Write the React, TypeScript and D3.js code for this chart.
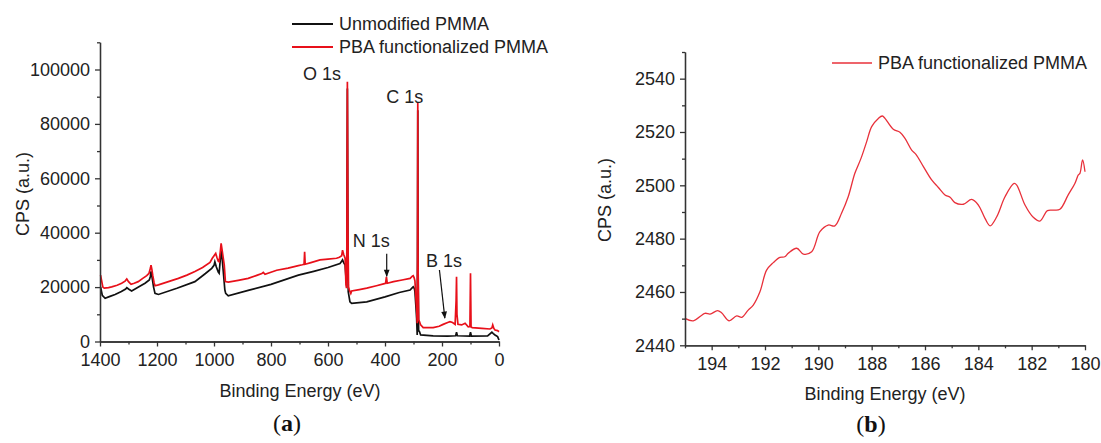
import React, { useEffect, useRef } from 'react';
import * as d3 from 'd3';

// survey spectra, [binding energy (eV), CPS]
const unmodifiedSurvey: [number, number][] = [
  [1398, 20100], [1392, 17000], [1382, 15900], [1365, 16600], [1347, 17300], [1325, 18400],
  [1310, 19300], [1306, 19800], [1300, 19300], [1289, 18600], [1265, 20000], [1242, 21400],
  [1227, 22600], [1223, 24000], [1221, 25800], [1218, 24000], [1212, 20000], [1207, 17700],
  [1195, 17300], [1130, 19600], [1067, 22000], [1030, 25000], [1008, 26900], [1000, 28000],
  [997, 29300], [992, 27500], [985, 25500], [982, 25100], [978, 30000], [975, 33600],
  [971, 30000], [966, 24000], [962, 19000], [959, 17700], [950, 16800], [880, 18800],
  [800, 21000], [704, 24400], [650, 25800], [600, 27200], [558, 28700], [552, 29500],
  [549, 30000], [545, 29000], [540, 28100], [536, 22000], [534, 30000], [532, 93000],
  [530, 35000], [529, 18300], [523, 14600], [517, 14000], [464, 14600], [400, 16400],
  [350, 18000], [312, 18900], [304, 19800], [301, 20100], [297, 19500], [295, 18300],
  [291, 12000], [289, 8500], [287, 2400], [286, 30000], [285, 85000], [284, 28000],
  [282, 4000], [279, 3600], [275, 2400], [231, 2100], [180, 2000], [152, 2100],
  [149, 3400], [146, 2100], [103, 2000], [100, 3400], [97, 2000], [40, 2100],
  [25, 3400], [20, 2900], [14, 2400], [5, 1800], [0, 550],
];

const pbaSurvey: [number, number][] = [
  [1398, 24400], [1390, 20000], [1385, 19600], [1370, 19800], [1359, 20100], [1340, 20700],
  [1324, 21400], [1312, 22200], [1306, 23000], [1300, 22000], [1291, 21000], [1280, 21400],
  [1266, 22000], [1250, 23200], [1236, 24200], [1228, 25100], [1223, 27000], [1221, 28100],
  [1218, 26500], [1215, 24400], [1210, 21500], [1207, 20500], [1195, 20800], [1160, 22000],
  [1125, 23200], [1095, 24400], [1067, 25700], [1040, 27200], [1014, 29100], [1006, 30600],
  [998, 31800], [994, 32400], [990, 31000], [985, 29500], [982, 29300], [978, 33000],
  [975, 36100], [972, 34000], [968, 31000], [964, 28100], [960, 22000], [950, 21800],
  [915, 22500], [880, 23200], [850, 24300], [832, 25000], [827, 25400], [821, 24700],
  [780, 26200], [740, 27000], [704, 27900], [690, 28200], [684, 28400], [682, 33000],
  [680, 28400], [660, 29000], [628, 30000], [600, 30300], [570, 30600], [560, 31000],
  [552, 31500], [549, 33600], [545, 32000], [540, 30600], [537, 20800], [535, 19600],
  [534, 30000], [532, 95500], [530, 40000], [528, 20000], [525, 18900], [520, 17700],
  [517, 18600], [490, 19100], [464, 19600], [430, 20500], [405, 21200], [398, 21400],
  [395, 23800], [392, 21400], [370, 22000], [340, 22600], [312, 23200], [304, 24000],
  [301, 24200], [298, 23500], [295, 22300], [291, 15000], [289, 12200], [287, 6700],
  [286, 30000], [285, 88000], [284, 30000], [282, 8000], [279, 7300], [275, 6100],
  [266, 5100], [231, 5100], [210, 5600], [196, 6300], [180, 7000], [172, 7300],
  [163, 7000], [154, 6300], [150.5, 15000], [149, 23800], [147.5, 10000], [144, 6300],
  [131, 6100], [119, 6700], [108, 5400], [102, 5500], [100, 25100], [98, 5300],
  [94, 5100], [60, 4800], [32, 4600], [25, 5000], [22, 6100], [18, 4800],
  [14, 4200], [5, 4000], [0, 3600],
];

// B 1s region
const pbaBoron: [number, number][] = [
  [195, 2450.1], [194.69, 2449.2], [194.25, 2452], [194.06, 2451.7], [193.78, 2453],
  [193.63, 2452.2], [193.35, 2449.2], [193.06, 2451], [192.87, 2450.5], [192.63, 2453.2],
  [192.44, 2455.1], [192.19, 2460.1], [191.94, 2468.2], [191.69, 2471], [191.44, 2473],
  [191.26, 2473.2], [191.13, 2474.5], [190.81, 2476.4], [190.56, 2474.2], [190.25, 2475.1],
  [189.94, 2482.6], [189.63, 2485.1], [189.38, 2484.8], [189.13, 2489.5], [188.88, 2495.7],
  [188.63, 2504.5], [188.4, 2510.1], [188.19, 2516.3], [188, 2522], [187.75, 2525.1],
  [187.6, 2526], [187.5, 2525.1], [187.19, 2521], [186.94, 2519.9], [186.75, 2517.6],
  [186.5, 2513.2], [186.34, 2511.6], [186.06, 2507], [185.75, 2502], [185.5, 2499.2],
  [185.25, 2496.4], [185.06, 2495.5], [184.88, 2493.5], [184.56, 2492.9], [184.25, 2494.7],
  [184, 2492.6], [183.75, 2487.6], [183.56, 2484.8], [183.31, 2488.2], [183, 2495.7],
  [182.66, 2500.7], [182.56, 2500.1], [182.25, 2492.6], [181.94, 2488], [181.69, 2486.6],
  [181.41, 2490.5], [181.19, 2490.7], [180.94, 2491], [180.63, 2496.4], [180.38, 2500.7],
  [180.25, 2503.9], [180.19, 2504.5], [180.09, 2509.5], [180, 2505.1],
];

const surveyYTicks = [0, 20000, 40000, 60000, 80000, 100000];
const surveyYMinor = [10000, 30000, 50000, 70000, 90000, 110000];
const surveyXTicks = [1400, 1200, 1000, 800, 600, 400, 200, 0];
const surveyXMinor = [1300, 1100, 900, 700, 500, 300, 100];
const boronYTicks = [2440, 2460, 2480, 2500, 2520, 2540];
const boronYMinor = [2450, 2470, 2490, 2510, 2530, 2550];
const boronXTicks = [194, 192, 190, 188, 186, 184, 182, 180];
const boronXMinor = [195, 193, 191, 189, 187, 185, 183, 181];

const surveyLegend = ['Unmodified PMMA', 'PBA functionalized PMMA'];
// peak labels: [text, energy at text start, cps at baseline]
const peakLabels: [string, number, number][] = [
  ['O 1s', 688, 96100],
  ['C 1s', 396, 87700],
  ['N 1s', 513, 34800],
  ['B 1s', 256, 27500],
];
// arrows: [from energy, from cps, to energy, to cps]
const peakArrows: [number, number, number, number][] = [
  [394, 32300, 394, 24000],
  [209, 26300, 190, 8600],
];

const FONT = '"Liberation Sans", Arial, Helvetica, sans-serif';
const SERIF = '"Liberation Serif", "Times New Roman", serif';
const RED = '#e8101a';
const LIGHT_RED = '#e8303a';
const fmt = d3.format('d');

const App = () => {
  const ref = useRef<SVGSVGElement>(null);

  useEffect(() => {
    const svg = d3.select(ref.current);
    svg.selectAll('*').remove();

    const axisStyle = (g: any) => {
      g.selectAll('path, line').attr('stroke', '#333').attr('stroke-width', 1.3);
      g.selectAll('text').attr('font-family', FONT).attr('font-size', 18).attr('fill', '#222');
    };
    const label = (g: any, x: number, y: number, t: string, anchor = 'start') =>
      g.append('text').attr('x', x).attr('y', y).attr('text-anchor', anchor)
        .attr('font-family', FONT).attr('font-size', 18).attr('fill', '#222').text(t);

    const marker = svg.append('defs').append('marker').attr('id', 'arr')
      .attr('viewBox', '0 0 10 10').attr('refX', 9).attr('refY', 5)
      .attr('markerWidth', 8).attr('markerHeight', 6).attr('orient', 'auto');
    marker.append('path').attr('d', 'M0,1L10,5L0,9z').attr('fill', '#111');

    // ---------- (a) survey ----------
    const xa = d3.scaleLinear().domain([1400, 0]).range([100, 499]);
    const ya = d3.scaleLinear().domain([0, 110000]).range([341.5, 42.3]);
    const a = svg.append('g');

    const lineA = d3.line<[number, number]>().x(d => xa(d[0])).y(d => ya(d[1]));
    a.append('path').datum(unmodifiedSurvey).attr('d', lineA)
      .attr('fill', 'none').attr('stroke', '#111').attr('stroke-width', 1.7);
    a.append('path').datum(pbaSurvey).attr('d', lineA)
      .attr('fill', 'none').attr('stroke', RED).attr('stroke-width', 1.7);

    a.append('g').attr('transform', 'translate(100,0)')
      .call(d3.axisLeft(ya).tickValues(surveyYTicks).tickFormat(fmt).tickSize(5).tickPadding(5).tickSizeOuter(0))
      .call(axisStyle);
    a.append('g').attr('transform', 'translate(100,0)')
      .call(d3.axisLeft(ya).tickValues(surveyYMinor).tickSize(3).tickFormat(() => '').tickSizeOuter(0))
      .call(axisStyle);
    a.append('g').attr('transform', 'translate(0,341.5)')
      .call(d3.axisBottom(xa).tickValues(surveyXTicks).tickFormat(fmt).tickSize(5).tickPadding(7).tickSizeOuter(0))
      .call(axisStyle);
    a.append('g').attr('transform', 'translate(0,341.5)')
      .call(d3.axisBottom(xa).tickValues(surveyXMinor).tickSize(3).tickFormat(() => '').tickSizeOuter(0))
      .call(axisStyle);

    a.append('text').attr('transform', 'translate(29,194) rotate(-90)')
      .attr('text-anchor', 'middle').attr('font-family', FONT).attr('font-size', 18)
      .attr('fill', '#222').text('CPS (a.u.)');
    label(a, 300, 397, 'Binding Energy (eV)', 'middle');

    peakLabels.forEach(([t, e, v]) => label(a, xa(e), ya(v), t));
    peakArrows.forEach(([e1, v1, e2, v2]) => {
      a.append('line').attr('x1', xa(e1)).attr('y1', ya(v1)).attr('x2', xa(e2)).attr('y2', ya(v2))
        .attr('stroke', '#111').attr('stroke-width', 1.2).attr('marker-end', 'url(#arr)');
    });

    // legend (a)
    [['#111', 24], [RED, 47]].forEach(([c, yy], i) => {
      a.append('line').attr('x1', 292).attr('x2', 333).attr('y1', yy).attr('y2', yy)
        .attr('stroke', c as string).attr('stroke-width', 1.8);
      a.append('text').attr('x', 339).attr('y', yy).attr('dy', '0.35em')
        .attr('font-family', FONT).attr('font-size', 18).attr('fill', '#222').text(surveyLegend[i]);
    });

    a.append('text').attr('x', 287).attr('y', 431).attr('text-anchor', 'middle')
      .attr('font-family', SERIF).attr('font-size', 24).attr('fill', '#111')
      .html('(<tspan font-weight="bold">a</tspan>)');

    // ---------- (b) B 1s ----------
    const xb = d3.scaleLinear().domain([195, 180]).range([685, 1085]);
    const yb = d3.scaleLinear().domain([2440, 2550]).range([345.3, 52]);
    const b = svg.append('g');

    const lineB = d3.line<[number, number]>().x(d => xb(d[0])).y(d => yb(d[1]))
      .curve(d3.curveCatmullRom.alpha(0.5));
    b.append('path').datum(pbaBoron).attr('d', lineB)
      .attr('fill', 'none').attr('stroke', LIGHT_RED).attr('stroke-width', 1.3);

    b.append('g').attr('transform', 'translate(685,0)')
      .call(d3.axisLeft(yb).tickValues(boronYTicks).tickFormat(fmt).tickSize(5).tickPadding(5).tickSizeOuter(0))
      .call(axisStyle);
    b.append('g').attr('transform', 'translate(685,0)')
      .call(d3.axisLeft(yb).tickValues(boronYMinor).tickSize(3).tickFormat(() => '').tickSizeOuter(0))
      .call(axisStyle);
    b.append('g').attr('transform', 'translate(0,345.3)')
      .call(d3.axisBottom(xb).tickValues(boronXTicks).tickFormat(fmt).tickSize(5).tickPadding(7).tickSizeOuter(0))
      .call(axisStyle);
    b.append('g').attr('transform', 'translate(0,345.3)')
      .call(d3.axisBottom(xb).tickValues(boronXMinor).tickSize(3).tickFormat(() => '').tickSizeOuter(0))
      .call(axisStyle);

    b.append('text').attr('transform', 'translate(611,200) rotate(-90)')
      .attr('text-anchor', 'middle').attr('font-family', FONT).attr('font-size', 18)
      .attr('fill', '#222').text('CPS (a.u.)');
    label(b, 885, 400, 'Binding Energy (eV)', 'middle');

    b.append('line').attr('x1', 832).attr('x2', 872).attr('y1', 63).attr('y2', 63)
      .attr('stroke', LIGHT_RED).attr('stroke-width', 1.3);
    b.append('text').attr('x', 878).attr('y', 63).attr('dy', '0.35em')
      .attr('font-family', FONT).attr('font-size', 18).attr('fill', '#222').text(surveyLegend[1]);

    b.append('text').attr('x', 871).attr('y', 432).attr('text-anchor', 'middle')
      .attr('font-family', SERIF).attr('font-size', 24).attr('fill', '#111')
      .html('(<tspan font-weight="bold">b</tspan>)');
  }, []);

  return (
    <svg ref={ref} width={1101} height={443}
         style={{ position: 'absolute', left: 0, top: 0, background: '#fff' }} />
  );
};

export default App;
